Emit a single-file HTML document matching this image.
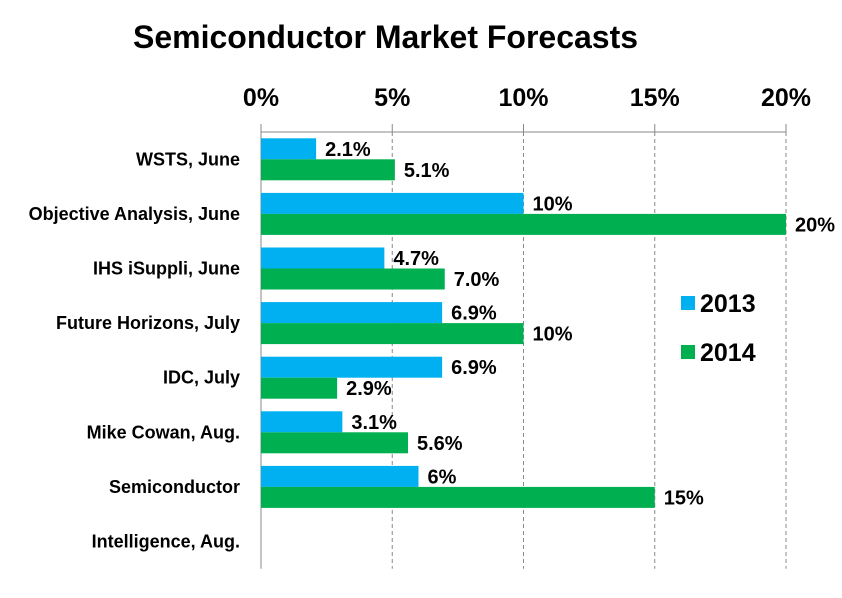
<!DOCTYPE html>
<html><head><meta charset="utf-8"><style>
body{margin:0;background:#fff;}
svg text{font-family:"Liberation Sans",sans-serif;font-weight:bold;fill:#000;}
</style></head><body>
<svg id="chart" width="842" height="593" viewBox="0 0 842 593" xmlns="http://www.w3.org/2000/svg">
<text x="133" y="48" font-size="32" style="font-family:'Liberation Sans',sans-serif">Semiconductor Market Forecasts</text>
<g id="grid"></g><g id="bars"></g><g id="labels"></g>
<g>
<rect x="681" y="296" width="14" height="14" fill="#00B0F0"/>
<text x="700" y="312" font-size="25">2013</text>
<rect x="681" y="345" width="14" height="14" fill="#00B050"/>
<text x="700" y="361" font-size="25">2014</text>
</g>
</svg>
<script>
const categories=["WSTS, June","Objective Analysis, June","IHS iSuppli, June","Future Horizons, July","IDC, July","Mike Cowan,  Aug.","Semiconductor"];
const values2013=[2.1,10,4.7,6.9,6.9,3.1,6];
const values2014=[5.1,20,7.0,10,2.9,5.6,15];
const labels2013=["2.1%","10%","4.7%","6.9%","6.9%","3.1%","6%"];
const labels2014=["5.1%","20%","7.0%","10%","2.9%","5.6%","15%"];
const ticks=[0,5,10,15,20];
const NS="http://www.w3.org/2000/svg";
const x0=261,x1=786,topY=132,band=54.6,bh=21;
const xs=v=>x0+(v/20)*(x1-x0);
const yc=i=>topY+band*i+band/2;
function mk(tag,attrs,parent){const e=document.createElementNS(NS,tag);for(const k in attrs)e.setAttribute(k,attrs[k]);document.getElementById(parent).appendChild(e);return e;}
ticks.forEach((t,i)=>{
  if(t>0){const g=mk('line',{x1:xs(t),x2:xs(t),y1:topY,y2:topY+band*8,stroke:'#888','stroke-dasharray':'4,3'},'grid');
  
  }
  const tk=mk('line',{x1:xs(t),x2:xs(t),y1:topY-8,y2:topY,stroke:'#888'},'grid');
  
  
  const tl=mk('text',{x:xs(t),y:106,'font-size':25,'text-anchor':'middle'},'grid');
  tl.textContent=t+'%';
  
  
});
const ax=mk('line',{x1:x0,x2:x1,y1:topY,y2:topY,stroke:'#888'},'grid');


const ay=mk('line',{x1:x0,x2:x0,y1:topY-8,y2:topY+band*8,stroke:'#888'},'grid');


categories.forEach((c,i)=>{
  const y=yc(i);
  const b1=mk('rect',{x:x0,y:y-bh,width:xs(values2013[i])-x0,height:bh,fill:'#00B0F0'},'bars');
  
  
  const b2=mk('rect',{x:x0,y:y,width:xs(values2014[i])-x0,height:bh,fill:'#00B050'},'bars');
  
  
  const l1=mk('text',{x:xs(values2013[i])+9,y:y-bh/2+7,'font-size':20},'labels');
  l1.textContent=labels2013[i];
  
  
  const l2=mk('text',{x:xs(values2014[i])+9,y:y+bh/2+7,'font-size':20},'labels');
  l2.textContent=labels2014[i];
  
  
  const cl=mk('text',{x:240,y:y+6,'font-size':18,'text-anchor':'end'},'labels');
  cl.textContent=c;
  
  
});
const extra=mk('text',{x:240,y:yc(7)+6,'font-size':18,'text-anchor':'end'},'labels');
extra.textContent='Intelligence, Aug.';


</script>
</body></html>
